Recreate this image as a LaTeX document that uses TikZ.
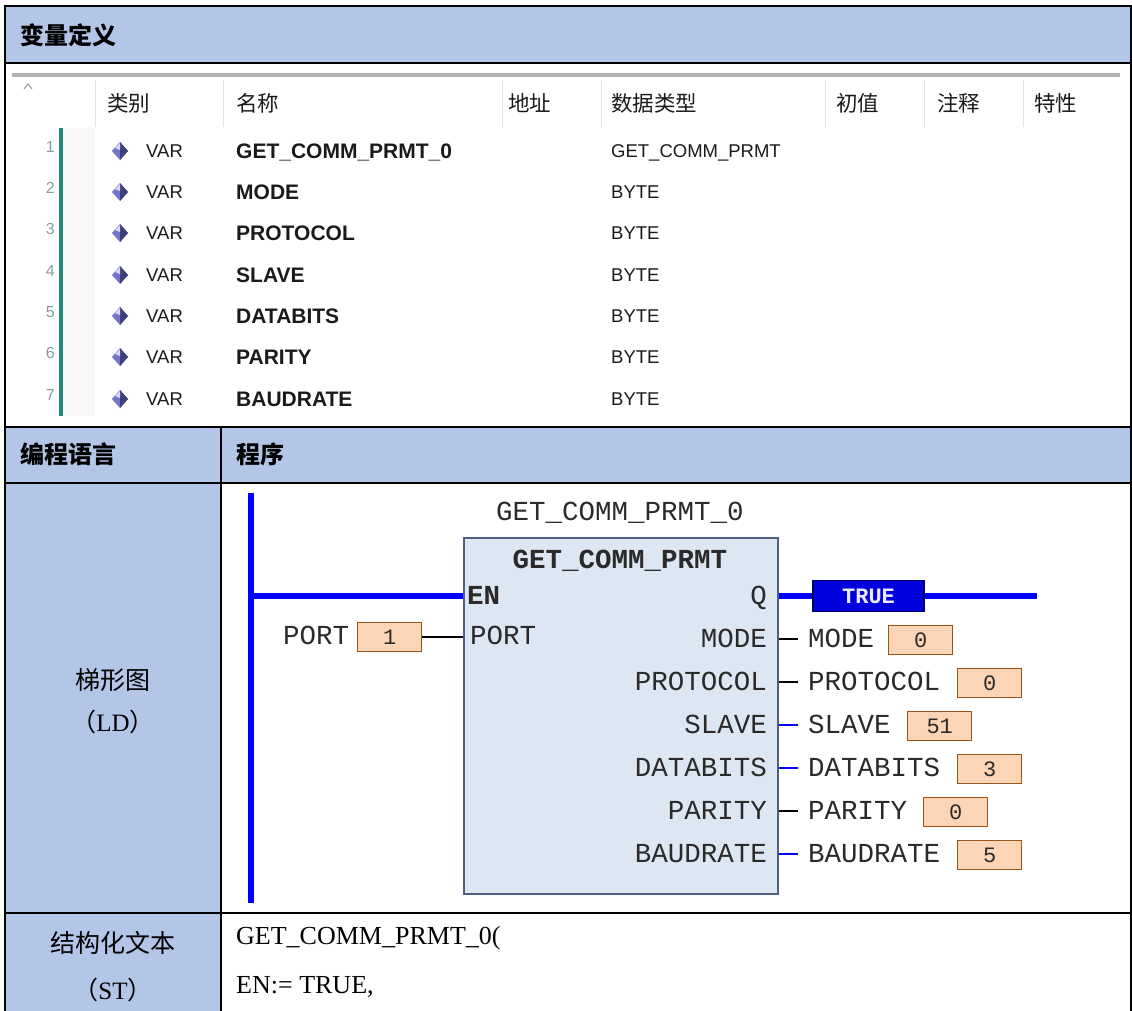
\documentclass[tikz,border=0pt]{standalone}
\usepackage{fontspec}
\setmainfont{Liberation Serif}
\newfontfamily\cjk{Noto Sans CJK SC}
\newfontfamily\sans{Liberation Sans}
\newfontfamily\mono{Liberation Mono}
\definecolor{hdr}{HTML}{B4C6E7}
\definecolor{fbfill}{HTML}{DDE6F3}
\definecolor{fbdraw}{HTML}{4F5F80}
\definecolor{valfill}{HTML}{FBD5B5}
\definecolor{valdraw}{HTML}{99541A}
\definecolor{railblue}{HTML}{0000FF}
\definecolor{truefill}{HTML}{0000DD}
\definecolor{tealbar}{HTML}{1F8A78}
\definecolor{ldtxt}{HTML}{2A2A2A}
\definecolor{tbtxt}{HTML}{1A1A1A}
\definecolor{sepgray}{HTML}{E2E2E2}
\definecolor{numgray}{HTML}{8A9AA4}
\tikzset{
  gridline/.style={draw=black, line width=1.2pt},
  titletxt/.style={font=\cjk\bfseries\fontsize{24}{24}\selectfont, inner sep=0, anchor=west},
  rowlbl/.style={font=\cjk\fontsize{25}{25}\selectfont, inner sep=0},
  sttxt/.style={font=\fontsize{26}{26}\selectfont, inner sep=0, anchor=west},
  colhead/.style={font=\cjk\fontsize{21.5}{22}\selectfont, text=tbtxt, inner sep=0, anchor=west},
  colsep/.style={draw=sepgray, line width=1pt},
  rownum/.style={font=\sans\fontsize{16}{16}\selectfont, text=numgray, inner sep=0, anchor=east},
  vartxt/.style={font=\sans\fontsize{18.5}{18.5}\selectfont, text=tbtxt, inner sep=0, anchor=west, text height=13pt, text depth=0pt},
  nametxt/.style={font=\sans\bfseries\fontsize{21}{21}\selectfont, text=tbtxt, inner sep=0, anchor=west, text height=15pt, text depth=0pt},
  lbl/.style={font=\mono\fontsize{27.5}{28}\selectfont, text=ldtxt, inner sep=0, text height=17pt, text depth=0pt},
  valbox/.style={draw=valdraw, line width=1.4pt, fill=valfill, minimum width=64pt, minimum height=29pt, inner sep=0, anchor=west, font=\mono\fontsize{22}{22}\selectfont, text=ldtxt},
  truebox/.style={draw=blue!40!black, line width=1.4pt, fill=truefill, minimum width=111pt, minimum height=31pt, inner sep=0, font=\mono\bfseries\fontsize{22}{22}\selectfont, text=blue!8!white},
  railline/.style={draw=railblue, line width=6pt},
  pinline/.style={line width=1.5pt},
}
\begin{document}
\begin{tikzpicture}[x=1pt,y=-1pt]
\useasboundingbox (0,0) rectangle (1132,1010);
% fills
\fill[hdr] (5,6) rectangle (1131,63);
\fill[hdr] (5,427) rectangle (1131,483);
\fill[hdr] (5,483) rectangle (221,1012);
% grid
\draw[gridline] (5,1012) -- (5,6) -- (1131,6) -- (1131,1012);
\draw[gridline] (5,63) -- (1131,63);
\draw[gridline] (5,427) -- (1131,427);
\draw[gridline] (5,483) -- (1131,483);
\draw[gridline] (5,913) -- (1131,913);
\draw[gridline] (221,427) -- (221,1012);
% title texts
\node[titletxt] (t1) at (20,35) {变量定义};
\node[titletxt] (t2) at (20,454) {编程语言};
\node[titletxt] (t3) at (236,454) {程序};
\node[rowlbl] (ld1) at (113,680) {梯形图};
\node[rowlbl] (ld2) at (113,722) {（{\rmfamily LD}）};
\node[rowlbl] (st1) at (113,943) {结构化文本};
\node[rowlbl] (st2) at (113,990) {（{\rmfamily ST}）};
\node[sttxt] (st3) at (236,938) {GET\_COMM\_PRMT\_0(};
\node[sttxt] (st4) at (236,987) {EN:= TRUE,};
% variable table screenshot
\fill[gray!6] (64,128) rectangle (95,416);
\fill[gray!60] (12,73) rectangle (1120,77);
\draw[gray!70, line width=1.2pt] (24,89) -- (28,84) -- (32,89);
\foreach \x in {95,223,502,601,825,924,1023} \draw[colsep] (\x,80) -- (\x,127);
\node[colhead] (h1) at (107,103) {类别};
\node[colhead] (h2) at (236,103) {名称};
\node[colhead] (h3) at (508,103) {地址};
\node[colhead] (h4) at (611,103) {数据类型};
\node[colhead] (h5) at (836,103) {初值};
\node[colhead] (h6) at (937,103) {注释};
\node[colhead] (h7) at (1034,103) {特性};
\fill[tealbar] (59,128) rectangle (62.5,416);
\foreach \i/\y/\nm/\ty in {1/151/GET\_COMM\_PRMT\_0/GET\_COMM\_PRMT, 2/192/MODE/BYTE, 3/233/PROTOCOL/BYTE, 4/275/SLAVE/BYTE, 5/316/DATABITS/BYTE, 6/357/PARITY/BYTE, 7/399/BAUDRATE/BYTE}{
  \node[rownum] (n\i) at (55,\y-4) {\i};
  \fill[blue!45!gray!75] (120,\y-9) -- (128,\y) -- (120,\y+9) -- (112,\y) -- cycle;
  \fill[blue!30!black!75] (120,\y-9) -- (128,\y) -- (120,\y+9) -- cycle;
  \fill[blue!15!white] (115,\y-3) -- (120,\y-8) -- (120,\y-1) -- cycle;
  \node[vartxt] (v\i) at (146,\y) {VAR};
  \node[nametxt] (m\i) at (236,\y) {\nm};
  \node[vartxt] (d\i) at (611,\y) {\ty};
}
% LD diagram
\coordinate (railtop) at (251,493);
\coordinate (railbot) at (251,903);
\node[draw=fbdraw, fill=fbfill, line width=1.6pt, minimum width=314pt, minimum height=356pt, inner sep=0, anchor=north west] (fb) at (463,537) {};
\node[lbl] (inst) at (620,512) {GET\_COMM\_PRMT\_0};
\node[lbl, font=\mono\bfseries\fontsize{27.5}{28}\selectfont] (typ) at (620,560) {GET\_COMM\_PRMT};
\node[lbl, anchor=west, font=\mono\bfseries\fontsize{27.5}{28}\selectfont] (en) at (467,596) {EN};
\node[lbl, anchor=east] (q) at (767,596) {Q};
\draw[railline] (railtop) -- (railbot);
\draw[draw=railblue, line width=5.5pt] (railtop |- en) -- (fb.west |- en);
\node[truebox] (tv) at (868.5,596) {TRUE};
\coordinate (qend) at (1037,596);
\draw[draw=railblue, line width=5.5pt] (fb.east |- q) -- (tv.west);
\draw[draw=railblue, line width=5.5pt] (tv.east) -- (qend);
% PORT input
\node[lbl, anchor=west] (portin) at (470,636) {PORT};
\node[lbl, anchor=west] (portl) at (283,636) {PORT};
\node[valbox] (portv) at (357,637) {1};
\draw[pinline] (portv.east) -- (fb.west |- portv);
% outputs
\foreach \k/\y/\nm/\c/\bx/\v in {mo/639/MODE/black/888/0, pr/682/PROTOCOL/black/957/0, sl/725/SLAVE/railblue/907/51, da/768/DATABITS/railblue/957/3, pa/811/PARITY/black/923/0, ba/854/BAUDRATE/railblue/957/5}{
  \node[lbl, anchor=east] (pin\k) at (767,\y) {\nm};
  \node[lbl, anchor=west] (out\k) at (808,\y) {\nm};
  \node[valbox] (val\k) at (\bx,\y+1) {\v};
  \draw[pinline, draw=\c] (fb.east |- pin\k) -- ([xshift=-10pt]out\k.west);
}
\end{tikzpicture}
\end{document}
